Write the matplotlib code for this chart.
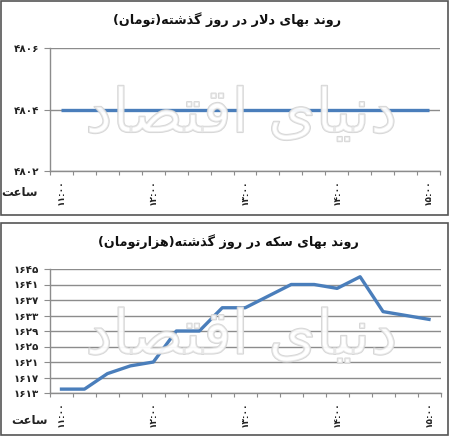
import numpy as np
import matplotlib
matplotlib.use("Agg")
import matplotlib.pyplot as plt
from matplotlib.patches import Rectangle
import matplotlib.patheffects as pe

# ---------------- data ----------------
times = ["11:00", "11:15", "11:30", "11:45", "12:00", "12:15", "12:30", "12:45",
         "13:00", "13:15", "13:30", "13:45", "14:00", "14:15", "14:30", "14:45", "15:00"]
shown_times = ["11:00", "12:00", "13:00", "14:00", "15:00"]
dollar = [4804, 4804, 4804, 4804, 4804, 4804, 4804, 4804, 4804,
          4804, 4804, 4804, 4804, 4804, 4804, 4804, 4804]
coin = [1614, 1614, 1618, 1620, 1621, 1629, 1629, 1635, 1635,
        1638, 1641, 1641, 1640, 1643, 1634, 1633, 1632]
dollar_ticks = [4802, 4804, 4806]
coin_ticks = [1613, 1617, 1621, 1625, 1629, 1633, 1637, 1641, 1645]
title_dollar = "روند بهای دلار در روز گذشته(تومان)"
title_coin = "روند بهای سکه در روز گذشته(هزارتومان)"
hour_label = "ساعت"
watermark = "دنیای اقتصاد"

# ------------- minimal Arabic/Persian shaping -------------
FORMS = {
    'ا': ('\uFE8D', '\uFE8E', None, None),
    'ب': ('\uFE8F', '\uFE90', '\uFE91', '\uFE92'),
    'ت': ('\uFE95', '\uFE96', '\uFE97', '\uFE98'),
    'د': ('\uFEA9', '\uFEAA', None, None),
    'ذ': ('\uFEAB', '\uFEAC', None, None),
    'ر': ('\uFEAD', '\uFEAE', None, None),
    'ز': ('\uFEAF', '\uFEB0', None, None),
    'س': ('\uFEB1', '\uFEB2', '\uFEB3', '\uFEB4'),
    'ش': ('\uFEB5', '\uFEB6', '\uFEB7', '\uFEB8'),
    'ص': ('\uFEB9', '\uFEBA', '\uFEBB', '\uFEBC'),
    'ع': ('\uFEC9', '\uFECA', '\uFECB', '\uFECC'),
    'ق': ('\uFED5', '\uFED6', '\uFED7', '\uFED8'),
    'ل': ('\uFEDD', '\uFEDE', '\uFEDF', '\uFEE0'),
    'م': ('\uFEE1', '\uFEE2', '\uFEE3', '\uFEE4'),
    'ن': ('\uFEE5', '\uFEE6', '\uFEE7', '\uFEE8'),
    'ه': ('\uFEE9', '\uFEEA', '\uFEEB', '\uFEEC'),
    'و': ('\uFEED', '\uFEEE', None, None),
    'ی': ('\uFBFC', '\uFBFD', '\uFBFE', '\uFBFF'),
    'ک': ('\uFB8E', '\uFB8F', '\uFB90', '\uFB91'),
    'گ': ('\uFB92', '\uFB93', '\uFB94', '\uFB95'),
}


def dual(c):
    return c in FORMS and FORMS[c][2] is not None


def shape(s):
    out = []
    i = 0
    n = len(s)
    while i < n:
        c = s[i]
        if c not in FORMS:
            out.append(c)
            i += 1
            continue
        jp = i > 0 and dual(s[i - 1])
        if c == 'ل' and i + 1 < n and s[i + 1] == 'ا':
            out.append('\uFEFC' if jp else '\uFEFB')
            i += 2
            continue
        jn = dual(c) and i + 1 < n and s[i + 1] in FORMS
        iso, fin, ini, med = FORMS[c]
        if jp and jn:
            g = med
        elif jp:
            g = fin
        elif jn:
            g = ini
        else:
            g = iso
        out.append(g)
        i += 1
    vis = out[::-1]
    mirror = {'(': ')', ')': '('}
    return ''.join(mirror.get(ch, ch) for ch in vis)


def fa_digits(s):
    return str(s).translate(str.maketrans("0123456789", "۰۱۲۳۴۵۶۷۸۹"))


# ---------------- figure ----------------
W, H = 450, 438
fig = plt.figure(figsize=(W / 100, H / 100), dpi=100)
fig.patch.set_facecolor("white")
plt.rcParams['font.family'] = ['DejaVu Sans']


def px_axes(x0, y0, x1, y1):
    return fig.add_axes([x0 / W, 1 - y1 / H, (x1 - x0) / W, (y1 - y0) / H])


def frame(x0, y0, x1, y1):
    fig.add_artist(Rectangle((x0 / W, 1 - y1 / H), (x1 - x0) / W, (y1 - y0) / H,
                             transform=fig.transFigure, fill=False,
                             edgecolor="#555555", lw=1.2))


LINE = "#4a7ebb"
GRID = "#8c8c8c"
xpos = np.arange(len(times)) + 0.5
label_pos = [times.index(t) + 0.5 for t in shown_times]


def style(ax, yticks, ylim):
    ax.set_xlim(0, len(times))
    ax.set_ylim(*ylim)
    for sp in ("top", "right"):
        ax.spines[sp].set_visible(False)
    for sp in ("left", "bottom"):
        ax.spines[sp].set_color(GRID)
        ax.spines[sp].set_linewidth(1.0)
    ax.set_yticks(yticks)
    ax.set_yticklabels([fa_digits(v) for v in yticks], fontsize=7.5,
                       fontweight="bold", color="#222222")
    ax.tick_params(axis="y", length=4, width=0.8, color=GRID, pad=4)
    ax.yaxis.grid(True, color=GRID, lw=1.0)
    ax.set_axisbelow(True)
    ax.set_xticks(np.arange(0, len(times) + 1))
    ax.set_xticklabels([])
    ax.tick_params(axis="x", which="major", length=3, width=0.8, color=GRID)
    ax.set_xticks(label_pos, minor=True)
    ax.set_xticklabels([fa_digits(t) for t in shown_times], minor=True,
                       rotation=90, fontsize=6.5, fontweight="bold",
                       color="#222222")
    ax.tick_params(axis="x", which="minor", length=0, pad=6)


def add_watermark(ax):
    t = ax.text(0.49, 0.45, shape(watermark), transform=ax.transAxes,
                ha="center", va="center", fontsize=44, color="white",
                alpha=0.45, zorder=5)
    t.set_path_effects([pe.Stroke(linewidth=1.3, foreground="#d2d2d2", alpha=0.9),
                        pe.Normal()])


# top panel
frame(1, 1, 448, 215)
ax1 = px_axes(50, 48, 440, 171)
ax1.plot(xpos, dollar, color=LINE, lw=2.4, solid_capstyle="butt")
style(ax1, dollar_ticks, (4802, 4806))
add_watermark(ax1)
fig.text(227 / W, 1 - 20 / H, shape(title_dollar), ha="center", va="center",
         fontsize=9.2, fontweight="bold", color="#111111")
fig.text(19 / W, 1 - 192 / H, shape(hour_label), ha="center", va="center",
         fontsize=8.5, fontweight="bold", color="#222222")

# bottom panel
frame(1, 223, 448, 435)
ax2 = px_axes(50, 269, 440.5, 393)
ax2.plot(xpos, coin, color=LINE, lw=2.4, solid_joinstyle="round")
style(ax2, coin_ticks, (1613, 1645))
add_watermark(ax2)
fig.text(228 / W, 1 - 242 / H, shape(title_coin), ha="center", va="center",
         fontsize=9.2, fontweight="bold", color="#111111")
fig.text(29 / W, 1 - 420 / H, shape(hour_label), ha="center", va="center",
         fontsize=8.5, fontweight="bold", color="#222222")

fig.savefig("out.png", dpi=100, facecolor="white")
